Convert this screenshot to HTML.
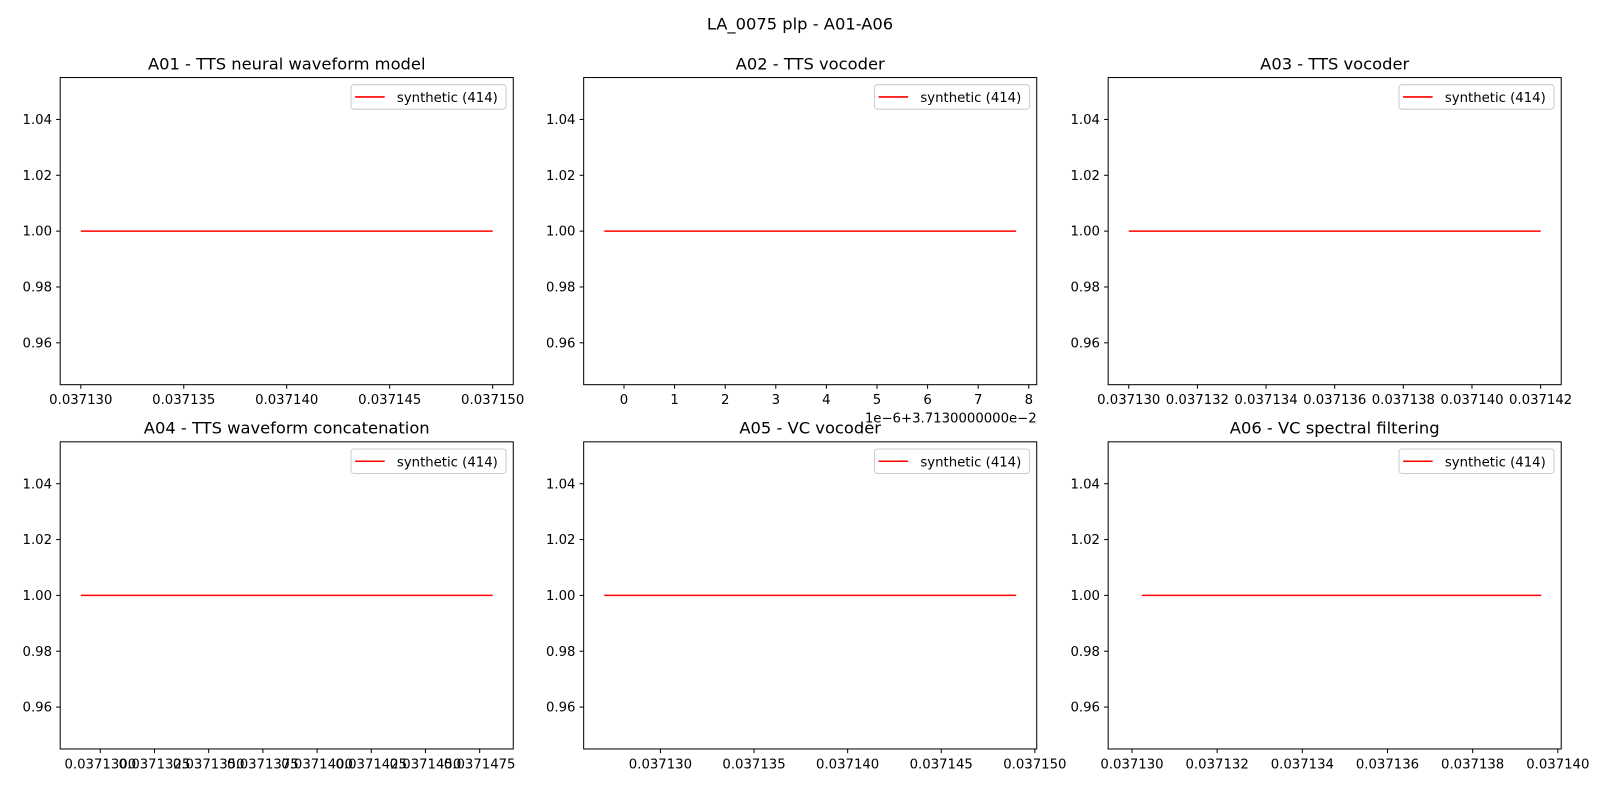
<!DOCTYPE html>
<html><head><meta charset="utf-8"><style>
body{margin:0;background:#fff;font-family:"Liberation Sans","DejaVu Sans",sans-serif}
svg text{font-family:"DejaVu Sans","Liberation Sans",sans-serif}
</style></head><body>
<svg width="1600" height="800" viewBox="0 0 1600 800" xmlns="http://www.w3.org/2000/svg">
<rect width="1600" height="800" fill="#fff"/>
<g id="fig" transform="scale(1.0204)">
<text x="784" y="29" font-size="16" text-anchor="middle">LA_0075 plp - A01-A06</text>
</g>
</svg>
<script>
const titles=["A01 - TTS neural waveform model","A02 - TTS vocoder","A03 - TTS vocoder","A04 - TTS waveform concatenation","A05 - VC vocoder","A06 - VC spectral filtering"];
const seriesX0=[0.037130,-0.39,0.037130,0.0371291,0.037127,0.03713023];
const seriesX1=[0.037150,7.75,0.037142,0.0371481,0.037149,0.03713961];
const seriesY=[1.0,1.0,1.0,1.0,1.0,1.0];
const xLimMin=[null,null,null,null,null,0.03712944];
const xLimMax=[null,null,null,null,null,0.03714008];
const xTicks=[
[0.037130,0.037135,0.037140,0.037145,0.037150],
[0,1,2,3,4,5,6,7,8],
[0.037130,0.037132,0.037134,0.037136,0.037138,0.037140,0.037142],
[0.0371300,0.0371325,0.0371350,0.0371375,0.0371400,0.0371425,0.0371450,0.0371475],
[0.037130,0.037135,0.037140,0.037145,0.037150],
[0.037130,0.037132,0.037134,0.037136,0.037138,0.037140]];
const xDigits=[6,0,6,7,6,6];
const yTicks=[0.96,0.98,1.00,1.02,1.04];
const legendLabel="synthetic (414)";
const NS="http://www.w3.org/2000/svg";
const svg=document.getElementById('fig');
function mk(t,a,p){const e=document.createElementNS(NS,t);for(const k in a)e.setAttribute(k,a[k]);(p||svg).appendChild(e);return e;}
const colsX=[59,572,1086],rowsY=[76,433],W=444,H=301;
for(let i=0;i<6;i++){
 const L=colsX[i%3],T=rowsY[Math.floor(i/3)];
 const g=mk('g',{});
 
 
 const x0=seriesX0[i],x1=seriesX1[i],pad=(x1-x0)*0.05;
 const lo=xLimMin[i]!==null?xLimMin[i]:x0-pad, hi=xLimMax[i]!==null?xLimMax[i]:x1+pad;
 const xs=v=>L+(v-lo)/(hi-lo)*W;
 const ys=v=>T+H-(v-0.945)/0.11*H;
 const t=mk('text',{x:L+W/2,y:T-8,'font-size':16,'text-anchor':'middle'},g);t.textContent=titles[i];
 
 yTicks.forEach(v=>{const y=ys(v);mk('line',{x1:L-4,x2:L,y1:y,y2:y,stroke:'#000'},g);
  const tx=mk('text',{x:L-8,y:y+4.5,'font-size':13,'text-anchor':'end'},g);tx.textContent=v.toFixed(2);
  });
 xTicks[i].forEach(v=>{const x=xs(v);mk('line',{x1:x,x2:x,y1:T+H,y2:T+H+4,stroke:'#000'},g);
  const tx=mk('text',{x:x,y:T+H+19,'font-size':13,'text-anchor':'middle'},g);tx.textContent=v.toFixed(xDigits[i]);
  });
 const ln=mk('line',{x1:xs(x0),x2:xs(x1),y1:ys(seriesY[i]),y2:ys(seriesY[i]),stroke:'#ff0000','stroke-width':1.5},g);
 
 const fr=mk('rect',{x:L,y:T,width:W,height:H,fill:'none',stroke:'#000','stroke-width':1},g);
 
 const lg=mk('g',{},g);
 
 mk('rect',{x:L+W-159,y:T+7,width:152,height:24,rx:3,fill:'#fff',stroke:'#ccc'},lg);
 mk('line',{x1:L+W-155,x2:L+W-126,y1:T+19,y2:T+19,stroke:'#ff0000','stroke-width':1.5},lg);
 const lt=mk('text',{x:L+W-114,y:T+24,'font-size':13},lg);lt.textContent=legendLabel;
 if(i===1){const o=mk('text',{x:L+W,y:T+H+37,'font-size':13,'text-anchor':'end'},g);o.textContent='1e\u22126+3.7130000000e\u22122';
  }
}
</script>
</body></html>
